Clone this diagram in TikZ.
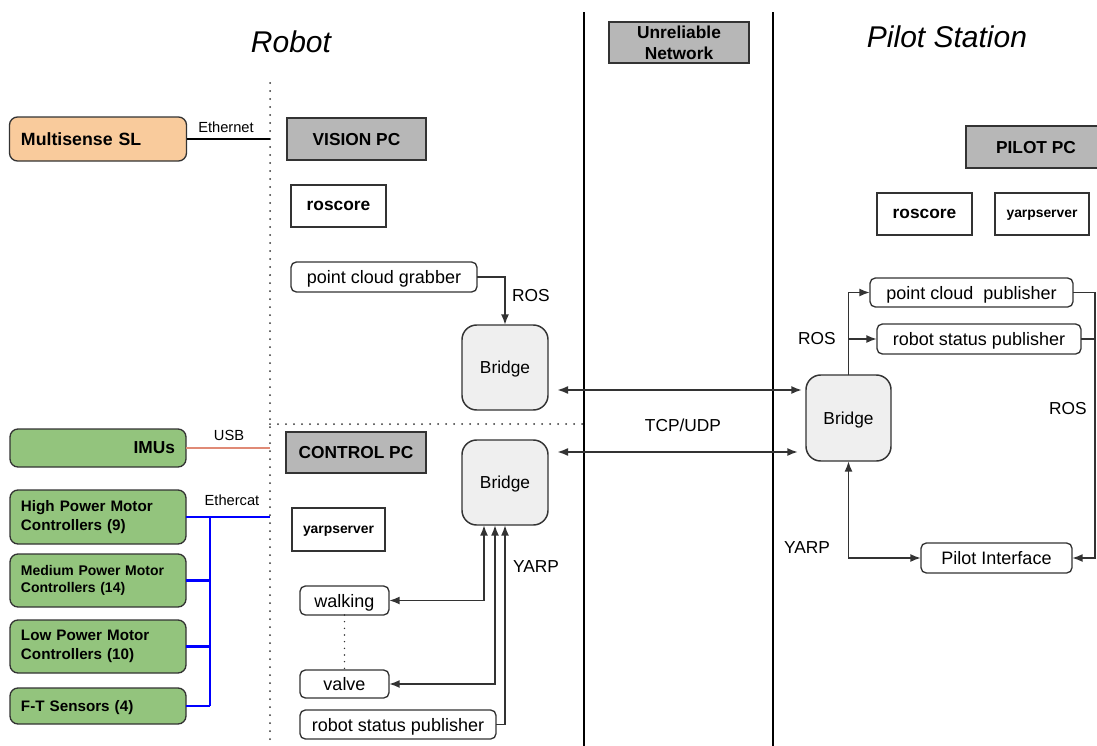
\documentclass[tikz,border=0pt]{standalone}
\usepackage{fontspec}
\setmainfont{Liberation Sans}
\usetikzlibrary{arrows.meta,shapes,positioning,calc}
\definecolor{peach}{HTML}{F9CB9C}
\definecolor{hwgreen}{HTML}{93C47D}
\definecolor{pcgray}{HTML}{B7B7B7}
\definecolor{bridgegray}{HTML}{EFEFEF}
\definecolor{usbred}{HTML}{E08A76}
\definecolor{edgegray}{HTML}{333333}
\tikzset{
    dims/.style 2 args={minimum width=#1*0.75pt, minimum height=#2*0.75pt},
    headtxt/.style={font=\fontsize{22.5}{26}\selectfont\itshape},
    pcbox/.style={draw=edgegray, line width=1pt, fill=pcgray, font=\fontsize{13}{15.5}\selectfont\bfseries},
    srvbox/.style={draw=edgegray, line width=1pt, fill=white},
    procbox/.style={draw=edgegray, line width=1pt, rounded corners=4pt, fill=white, font=\fontsize{13.5}{16}\selectfont},
    bridgebox/.style={draw=edgegray, line width=1.1pt, rounded corners=11pt, fill=bridgegray, font=\fontsize{13}{15}\selectfont},
    hwbox/.style={draw=edgegray, line width=1pt, rounded corners=6pt, fill=hwgreen, text width=115.5pt, align=left, font=\fontsize{11.4}{14}\selectfont\bfseries},
    twoline/.style={text depth={}},
    lbl/.style={font=\fontsize{13}{15}\selectfont},
    smalllbl/.style={font=\fontsize{11}{13}\selectfont},
    wall/.style={line width=1.8pt},
    dots/.style={line width=1.5pt, dash pattern=on 0pt off 6pt, line cap=round, edgegray},
    wire/.style={line width=1.3pt, edgegray},
    ether/.style={line width=1.6pt, blue}
}

\begin{document}
\begin{tikzpicture}[x=0.75pt, y=-0.75pt, >={Latex[length=8pt,width=6pt]},
    every node/.style={inner sep=0pt, outer sep=0pt, text depth=0pt}]
  \useasboundingbox (0,0) rectangle (1097,746);

  % zones
  \draw[wall] (584,12) -- (584,746);
  \draw[wall] (773,12) -- (773,746);
  \draw[dots] (270,83) -- (270,746);
  \draw[dots] (270,424) -- (584,424);

  \node[headtxt] (robot) at (291,42) {Robot};
  \node[headtxt] (station) at (947,37) {Pilot Station};
  \node[pcbox, dims={140}{41}, align=center] (net) at (679,42.5) {Unreliable\\Network};

  % robot hardware
  \node[hwbox, fill=peach, dims={177}{44}, font=\fontsize{13.3}{15}\selectfont\bfseries] (multi) at (98,139) {Multisense SL};
  \node[hwbox, dims={176}{38}, align=right, font=\fontsize{13}{15}\selectfont\bfseries] (imu) at (98,448) {IMUs};
  \node[hwbox, twoline, dims={176}{54}] (hpm) at (98,517) {High Power Motor\\Controllers (9)};
  \node[hwbox, twoline, dims={176}{53}, font=\fontsize{10.5}{13}\selectfont\bfseries] (mpm) at (98,580.5) {Medium Power Motor\\Controllers (14)};
  \node[hwbox, twoline, dims={176}{53}] (lpm) at (98,646.5) {Low Power Motor\\Controllers (10)};
  \node[hwbox, dims={176}{36}] (fts) at (98,706) {F-T Sensors (4)};

  % vision pc
  \node[pcbox, dims={139}{42}] (vpc) at (356.5,139) {VISION PC};
  \node[srvbox, dims={95}{42}, font=\fontsize{13}{15}\selectfont\bfseries] (roscoreA) at (338.5,206) {roscore};
  \node[procbox, dims={186}{30}] (grabber) at (384,277) {point cloud grabber};
  \node[bridgebox, dims={86}{85}] (bridgeA) at (505,367.5) {Bridge};

  % control pc
  \node[pcbox, dims={140}{41}] (cpc) at (356,452.5) {CONTROL PC};
  \node[bridgebox, dims={86}{85}] (bridgeB) at (505,482.5) {Bridge};
  \node[srvbox, dims={93}{43}, font=\fontsize{10.4}{12}\selectfont\bfseries] (ysrvA) at (338.5,529.5) {yarpserver};
  \node[procbox, dims={89}{29}] (walk) at (344.5,600.5) {walking};
  \node[procbox, dims={89}{28}] (valve) at (344.5,684) {valve};
  \node[procbox, dims={196}{29}] (rspA) at (398,724.5) {robot status publisher};

  % pilot pc
  \node[pcbox, dims={140}{42}] (ppc) at (1036,147) {PILOT PC};
  \node[srvbox, dims={95}{42}, font=\fontsize{13}{15}\selectfont\bfseries] (roscoreB) at (924.5,214) {roscore};
  \node[srvbox, dims={94}{42}, font=\fontsize{10.4}{12}\selectfont\bfseries] (ysrvB) at (1042,214) {yarpserver};
  \node[procbox, dims={203}{29}] (pcp) at (971.5,292.5) {point cloud\ \ publisher};
  \node[procbox, dims={204}{30}] (rspB) at (979,339) {robot status publisher};
  \node[bridgebox, dims={85}{86}] (bridgeC) at (848.5,418) {Bridge};
  \node[procbox, dims={151}{30}] (pilot) at (996.5,558) {Pilot Interface};

  % labels
  \node[smalllbl] (ethlbl) at (226,127) {Ethernet};
  \node[smalllbl] (usblbl) at (229,435) {USB};
  \node[smalllbl] (ecatlbl) at (232,500) {Ethercat};
  \node[lbl] (rosA) at (531,295) {ROS};
  \node[lbl] (tcp) at (683,425) {TCP/UDP};
  \node[lbl] (yarpA) at (536,567) {YARP};
  \node[lbl] (rosB) at (817,338) {ROS};
  \node[lbl] (rosC) at (1068,408) {ROS};
  \node[lbl] (yarpB) at (807,548) {YARP};

  % cables
  \coordinate (robotedge) at (270,0);
  \coordinate (bus) at (210,0);
  \draw[line width=1.6pt] (multi.east) -- (multi.east -| robotedge);
  \draw[line width=2pt, usbred] (imu.east) -- (imu.east -| robotedge);
  \draw[ether] (hpm.east) -- (hpm.east -| robotedge);
  \draw[ether] (hpm.east -| bus) -- (fts.east -| bus);
  \foreach \n in {mpm,lpm,fts}
    \draw[ether] (\n.east) -- (\n.east -| bus);

  % ros / yarp links
  \draw[->, wire] (grabber.east) -| (bridgeA.north);
  \draw[<->, wire] (walk.east) -| ($(bridgeB.south)+(-21,0)$);
  \draw[<->, wire] (valve.east) -| ($(bridgeB.south)+(-10,0)$);
  \draw[->, wire] (rspA.east) -| (bridgeB.south);
  \draw[dots, line width=1.2pt, dash pattern=on 0pt off 5pt] (walk.south) -- (valve.north);

  % network
  \coordinate (linkA) at (0,390);
  \coordinate (linkB) at (0,452);
  \draw[<->, wire, shorten <=7pt, shorten >=3pt] (bridgeA.east |- linkA) -- (bridgeC.west |- linkA);
  \draw[<->, wire, shorten <=7pt, shorten >=6pt] (bridgeB.east |- linkB) -- (bridgeC.west |- linkB);

  % pilot side
  \coordinate (rosline) at (1095,0);
  \draw[->, wire] (bridgeC.north) |- (pcp.west);
  \draw[->, wire] (bridgeC.north |- rspB.west) -- (rspB.west);
  \draw[->, wire] (pcp.east) -- (pcp.east -| rosline) |- (pilot.east);
  \draw[wire] (rspB.east) -- (rspB.east -| rosline);
  \draw[<->, wire] (bridgeC.south) |- (pilot.west);
\end{tikzpicture}
\end{document}
